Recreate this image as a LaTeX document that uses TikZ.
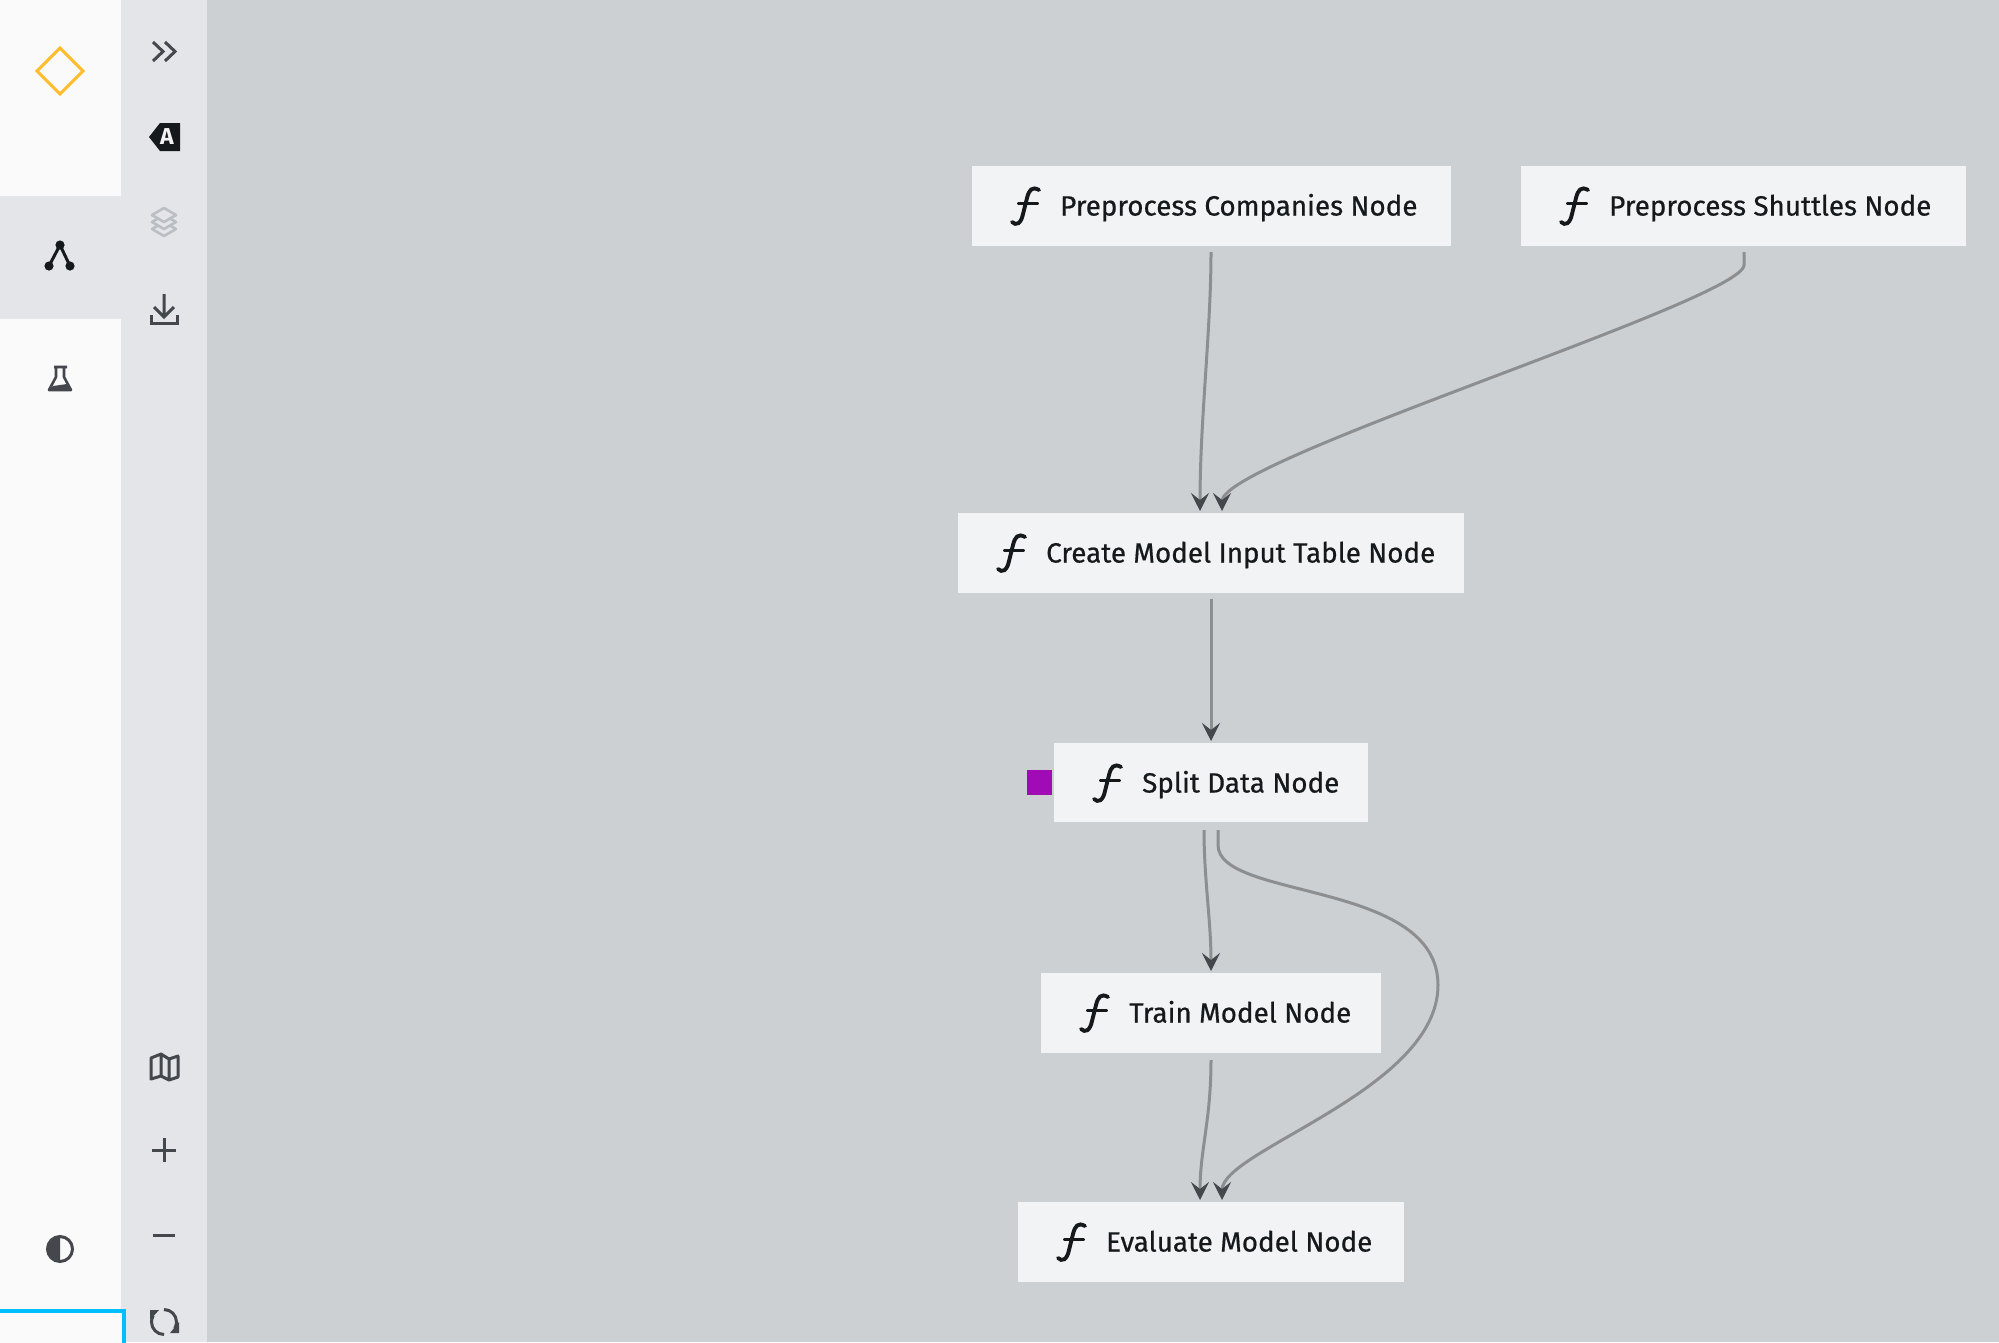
\documentclass[tikz,border=0pt]{standalone}
\usepackage{fontspec}
\setmainfont{Fira Sans}
\newfontfamily\taskfont[FakeBold=0.6]{Fira Sans}
\usetikzlibrary{arrows.meta}
\definecolor{canvasc}{HTML}{CDD0D3}
\definecolor{railc}{HTML}{FAFAFA}
\definecolor{barc}{HTML}{E3E5E8}
\definecolor{boxc}{HTML}{F2F3F5}
\definecolor{inkc}{HTML}{16191C}
\definecolor{iconc}{HTML}{44474B}
\definecolor{edgec}{HTML}{8C8E90}
\definecolor{tipc}{HTML}{44474B}
\definecolor{logoc}{HTML}{FFBC2D}
\definecolor{framec}{HTML}{00BFFF}
\definecolor{flagc}{HTML}{A00BB5}
\definecolor{layerc}{HTML}{BBBEC2}
\tikzset{
 x=1pt,y=-1pt,
 taskbox/.style={fill=boxc,draw=none,inner sep=0pt,anchor=north west},
 tasktext/.style={text=inkc,font=\taskfont\fontsize{27.8}{28}\selectfont,anchor=base west,inner sep=0pt},
 fnstroke/.style={draw=inkc,line width=3.9pt,line cap=round},
 link/.style={draw=edgec,line width=3pt,-{Stealth[length=18pt,width=18pt,inset=7pt,color=tipc]}},
 icn/.style={draw=iconc,line width=3pt},
}
\newcommand{\task}[7]{% name, x1,y1,x2,y2, text x, text
 \node[taskbox,minimum width=#4-#2,minimum height=#5-#3] (#1) at (#2,#3) {};
 \draw[fnstroke,shift={(#6-1060,#3-166)}] (1039,190) .. controls (1032,186) and (1029,190) .. (1027,198) -- (1023,214) .. controls (1021,224) and (1016,226) .. (1012,222);
 \draw[fnstroke,shift={(#6-1060,#3-166)}] (1019,203.5) -- (1037,203.5);
 \node[tasktext] (#1t) at (#6,#3+49.5) {#7};
}
\begin{document}
\begin{tikzpicture}
\useasboundingbox (0,0) rectangle (1999,1342);
\fill[canvasc] (0,0) rectangle (1999,1342);
\fill[barc] (121,0) rectangle (207,1342);
\fill[railc] (0,0) rectangle (121,1342);
\fill[barc] (0,196) rectangle (121,319);
% blue frame
\draw[draw=framec,line width=4pt,fill=railc] (-4,1311) -- (124,1311) -- (124,1346) -- (-4,1346);
% logo
\draw[draw=logoc,line width=3pt] (60,48) -- (83,71) -- (60,94) -- (37,71) -- cycle;
% network icon
\draw[draw=inkc,line width=3pt] (49,266) -- (60,245) -- (70,266);
\foreach \p in {(60,245),(49,266),(70,266)} \fill[inkc] \p circle (4.6);
% flask
\draw[icn,line width=2.6pt,line join=round] (54,367) -- (67,367) (56,367) -- (56,377) -- (49,390) -- (71,390) -- (64,377) -- (64,367);
\fill[iconc] (53,386) -- (67,384) -- (71,390) -- (49,390) -- cycle;
% half circle
\draw[icn] (60,1249) circle (12.5);
\fill[iconc] (60,1236.5) arc (-90:-270:12.5) -- cycle;
% chevrons
\draw[icn] (153,42) -- (163,51.5) -- (153,61) (165,42) -- (175,51.5) -- (165,61);
% tag
\fill[inkc] (149,137) -- (160,123) -- (180,123) -- (180,151) -- (160,151) -- cycle;
\node[text=boxc,font=\bfseries\fontsize{23}{23}\selectfont,inner sep=0pt] (taglabel) at (167,137) {A};
% layers
\foreach \d in {0,7,14}{
 \draw[draw=layerc,fill=barc,line width=2.6pt,line join=round] (152,229-\d) -- (164,222-\d) -- (176,229-\d) -- (164,236-\d) -- cycle;
}
% download
\draw[icn] (164,294) -- (164,316) (154,307) -- (164,317) -- (174,307);
\draw[icn] (151,315) -- (151,323) -- (177,323) -- (177,315);
% map
\draw[icn,line join=round] (151,1058) -- (161,1054) -- (169,1059) -- (178,1056) -- (178,1077) -- (169,1080) -- (161,1076) -- (151,1079) -- cycle (161,1054) -- (161,1076) (169,1059) -- (169,1080);
% plus minus
\draw[icn] (152,1150) -- (176,1150) (164,1138) -- (164,1162);
\draw[icn] (153,1235.5) -- (175,1235.5);
% refresh
\draw[icn] (164,1309.5) arc (-90:30:12.5);
\draw[icn] (164,1334.5) arc (90:210:12.5);
\fill[iconc] (179,1333) -- (170,1333) -- (179,1322) -- cycle;
\fill[iconc] (150,1310) -- (159,1310) -- (150,1320) -- cycle;
% tasks
\task{comp}{972}{166}{1451}{246}{1060}{Preprocess Companies Node}
\task{shut}{1521}{166}{1966}{246}{1609}{Preprocess Shuttles Node}
\task{make}{958}{513}{1464}{593}{1046}{Create Model Input Table Node}
\task{split}{1054}{743}{1368}{822}{1142}{Split Data Node}
\task{train}{1041}{973}{1381}{1053}{1129}{Train Model Node}
\task{eval}{1018}{1202}{1404}{1282}{1106}{Evaluate Model Node}
\fill[flagc] (1027,770) rectangle (1052,795);
% ports
\coordinate (compo) at (1211,252);
\coordinate (shuto) at (1744,252);
\coordinate (makei) at (1200,511);
\coordinate (makej) at (1222,511);
\coordinate (makeo) at (1211,599);
\coordinate (spliti) at (1211,741);
\coordinate (splito) at (1204,830);
\coordinate (splitp) at (1218,830);
\coordinate (traini) at (1211,971);
\coordinate (traino) at (1211,1060);
\coordinate (evali) at (1200,1200);
\coordinate (evalj) at (1222,1200);
\draw[link] (compo) .. controls (1211,330) and (1200,420) .. (makei);
\draw[link] (shuto) -- (1744,265) .. controls (1744,300) and (1222,460) .. (makej);
\draw[link] (makeo) -- (spliti);
\draw[link] (splito) .. controls (1204,880) and (1211,920) .. (traini);
\draw[link] (splitp) -- (1218,845) .. controls (1218,900) and (1438,880) .. (1438,985) .. controls (1438,1090) and (1222,1150) .. (evalj);
\draw[link] (traino) .. controls (1211,1120) and (1200,1150) .. (evali);
\end{tikzpicture}
\end{document}
